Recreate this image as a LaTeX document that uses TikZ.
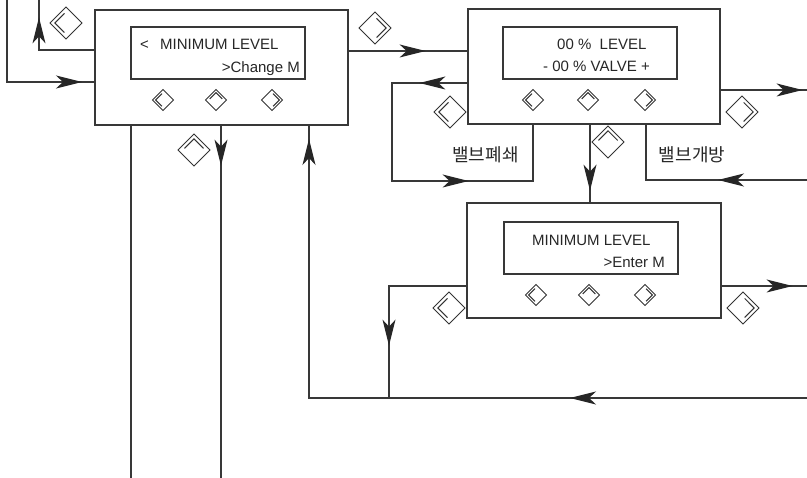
\documentclass[tikz,border=0pt]{standalone}
\usepackage{fontspec}
\setmainfont{Liberation Sans}
\newfontfamily\krfont{Noto Sans CJK KR}
\usetikzlibrary{arrows.meta,decorations.markings}
\begin{document}
\begin{tikzpicture}[x=1pt,y=-1pt,
  ink/.style={draw=black!78, line width=1.3pt},
  panel/.style={ink, rectangle, inner sep=0pt, minimum width=#1, minimum height=115pt},
  screen/.style={draw=black!78, line width=1.3pt, rectangle, inner sep=0pt,
                 minimum width=174pt, minimum height=52pt},
  lcd/.style={font=\fontsize{15}{18}\selectfont, inner sep=0pt, text=black!85},
  hangul/.style={font=\krfont\fontsize{18}{21}\selectfont, inner sep=0pt, text=black!85},
  wire/.style={draw=black!78, line width=1.3pt},
  tipat/.style={postaction={decorate, decoration={markings,
      mark=at position #1 with {\arrow[black!85]{Stealth[length=26pt,width=13pt,inset=7pt]}}}}},
  keyrim/.style={draw=black!80, line width=1pt, line join=miter},
  keyd/.pic={
    \draw[keyrim] (-1,0) -- (0,-1) -- (1,0) -- (0,1) -- cycle;
    \draw[keyrim] (-0.1,-0.6) -- (-0.7,0) -- (-0.1,0.6);
  },
  bigkey/.style={scale=16},
  smallkey/.style={scale=10.5}
]
\useasboundingbox (0,0) rectangle (807,478);

% menu panels and their displays
\node[panel=253pt] (A) at (221.5,67.5) {};
\node[screen] (Ad) at (218,53) {};
\node[panel=252pt] (B) at (594,66.5) {};
\node[screen] (Bd) at (590,53) {};
\node[panel=254pt] (C) at (594,260.5) {};
\node[screen] (Cd) at (591,248) {};

% display texts
\node[lcd, anchor=base west] (At0) at (140,49.5) {<};
\node[lcd, anchor=base west] (At1) at (160,49.5) {MINIMUM LEVEL};
\node[lcd, anchor=base east] (At2) at (300,72.5) {>Change M};
\node[lcd, anchor=base west] (Bt1) at (557,50) {00 \%\ \ LEVEL};
\node[lcd, anchor=base west] (Bt2) at (543,72) {- 00 \% VALVE +};
\node[lcd, anchor=base west] (Ct1) at (532,245.5) {MINIMUM LEVEL};
\node[lcd, anchor=base east] (Ct2) at (665,267.5) {>Enter M};

% valve labels
\node[hangul] (L1) at (485.5,155) {밸브폐쇄};
\node[hangul] (L2) at (692,155) {밸브개방};

% keypad buttons on the panels
\pic[smallkey] (ka1) at (163,100) {keyd};
\pic[smallkey, rotate=-90] (ka2) at (216,100) {keyd};
\pic[smallkey, rotate=180] (ka3) at (272,100) {keyd};
\pic[smallkey] (kb1) at (533,100) {keyd};
\pic[smallkey, rotate=-90] (kb2) at (588,100) {keyd};
\pic[smallkey, rotate=180] (kb3) at (645,100) {keyd};
\pic[smallkey] (kc1) at (536,295) {keyd};
\pic[smallkey, rotate=-90] (kc2) at (589,295) {keyd};
\pic[smallkey, rotate=180] (kc3) at (645,295) {keyd};

% key symbols along the transitions
\pic[bigkey] (g1) at (66,23) {keyd};
\pic[bigkey, rotate=180] (g2) at (375,28) {keyd};
\pic[bigkey] (g3) at (450,112) {keyd};
\pic[bigkey, rotate=-90] (g4) at (608,142) {keyd};
\pic[bigkey, rotate=180] (g5) at (742,112) {keyd};
\pic[bigkey, rotate=-90] (g6) at (194,150) {keyd};
\pic[bigkey] (g7) at (449,308) {keyd};
\pic[bigkey, rotate=180] (g8) at (743,308) {keyd};

% free ends at the border
\coordinate (topL) at (39,0);
\coordinate (topLL) at (7,0);
\coordinate (rout1) at (807,90);
\coordinate (rin1) at (807,180);
\coordinate (rout2) at (807,286);
\coordinate (rin2) at (807,398);
\coordinate (bot1) at (131,478);
\coordinate (bot2) at (221,478);
\coordinate (bl) at (392,181);
\coordinate (j1) at (389,398);

% transitions
\draw[wire, tipat=88pt] (A.west |- 0,50) -| (topL);
\draw[wire, tipat=157pt] (topLL) |- (A.west |- 0,82);
\draw[wire, tipat=77pt] (A.east |- 0,51) -- (B.west |- 0,51);
\draw[wire, tipat=48pt, tipat=250pt] (B.west |- 0,83) -| (bl) -| (B.south -| 533,0);
\draw[wire, tipat=66pt] (B.south -| 590,0) -- (C.north -| 590,0);
\draw[wire, tipat=89pt] (rin1) -| (B.south -| 646,0);
\draw[wire, tipat=82pt] (B.east |- 0,90) -- (rout1);
\draw[wire, tipat=137pt] (C.west |- 0,286) -| (j1);
\draw[wire, tipat=71pt] (C.east |- 0,286) -- (rout2);
\draw[wire, tipat=237pt, tipat=757pt] (rin2) -| (A.south -| 309,0);
\draw[wire] (A.south -| 131,0) -- (bot1);
\draw[wire, tipat=40pt] (A.south -| 221,0) -- (bot2);
\end{tikzpicture}
\end{document}
